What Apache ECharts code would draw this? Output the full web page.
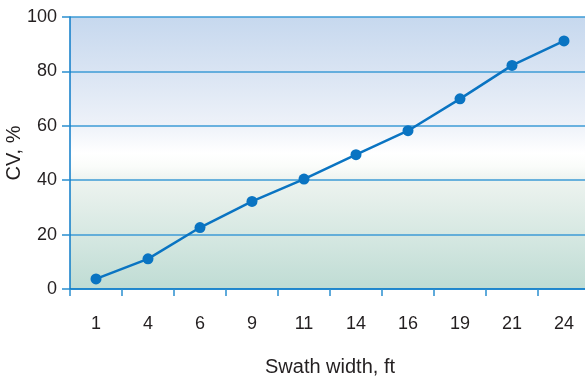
<!DOCTYPE html>
<html>
<head>
<meta charset="utf-8">
<script src="https://cdn.jsdelivr.net/npm/echarts@6/dist/echarts.min.js"></script>
<style>html,body{margin:0;padding:0;background:#fff}#c{width:585px;height:381px}</style>
</head>
<body>
<div id="c"></div>
<script>
var categories = ['1', '4', '6', '9', '11', '14', '16', '19', '21', '24'];
var cvValues = [3.7, 11.1, 22.6, 32.2, 40.4, 49.4, 58.2, 69.9, 82.2, 91.2];
var yTicks = { min: 0, max: 100, interval: 20 };
var xTitle = 'Swath width, ft';
var yTitle = 'CV, %';

var chart = echarts.init(document.getElementById('c'), null, { renderer: 'canvas' });
var txt = '#231f20';
var font = '"Liberation Sans", Arial, sans-serif';
chart.setOption({
  animation: false,
  grid: {
    left: 70, top: 17, right: -5, bottom: 92,
    outerBoundsMode: 'none',
    containLabel: false,
    show: true, borderWidth: 0,
    backgroundColor: new echarts.graphic.LinearGradient(0, 0, 0, 1, [
      { offset: 0, color: '#c6d8ee' },
      { offset: 0.2, color: '#d9e4f3' },
      { offset: 0.4, color: '#eef2f9' },
      { offset: 0.5, color: '#ffffff' },
      { offset: 0.55, color: '#fafcfa' },
      { offset: 0.6, color: '#edf3ef' },
      { offset: 0.8, color: '#d6e8e2' },
      { offset: 1, color: '#bfdcd4' }
    ])
  },
  xAxis: {
    type: 'category',
    data: categories,
    boundaryGap: true,
    name: xTitle,
    nameLocation: 'middle',
    nameGap: 68,
    nameMoveOverlap: false,
    nameTextStyle: { color: txt, fontSize: 20, fontFamily: font },
    axisLine: { show: true, lineStyle: { color: '#0c7bc9', width: 1.5 } },
    axisTick: { show: true, alignWithLabel: false, length: 7, lineStyle: { color: '#2a8fd0', width: 1.5 } },
    axisLabel: { color: txt, fontSize: 18, fontFamily: font, margin: 26 },
    splitLine: { show: false }
  },
  yAxis: {
    type: 'value',
    min: yTicks.min, max: yTicks.max, interval: yTicks.interval,
    name: yTitle,
    nameLocation: 'middle',
    nameGap: 46,
    nameMoveOverlap: false,
    nameRotate: 90,
    nameTextStyle: { color: txt, fontSize: 20, fontFamily: font },
    axisLine: { show: true, lineStyle: { color: '#0c7bc9', width: 1.5 } },
    axisTick: { show: true, length: 8, lineStyle: { color: '#2a8fd0', width: 1.5 } },
    axisLabel: { color: txt, fontSize: 18, fontFamily: font, margin: 13 },
    splitLine: { show: true, lineStyle: { color: '#3d9bd6', width: 1.5 } }
  },
  series: [{
    type: 'line',
    data: cvValues,
    symbol: 'circle',
    symbolSize: 11,
    lineStyle: { color: '#0a74c2', width: 2.5 },
    itemStyle: { color: '#0a74c2' }
  }]
});
</script>
</body>
</html>
